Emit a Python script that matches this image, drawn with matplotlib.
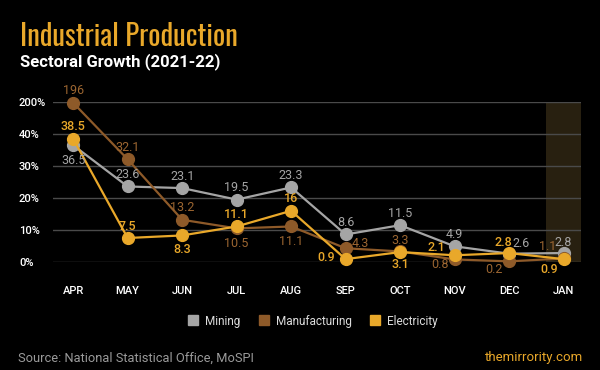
import numpy as np
import matplotlib
matplotlib.use("Agg")
import matplotlib.pyplot as plt
from matplotlib.lines import Line2D
from matplotlib import font_manager as fm

months = ["APR", "MAY", "JUN", "JUL", "AUG", "SEP", "OCT", "NOV", "DEC", "JAN"]
mining = [36.5, 23.6, 23.1, 19.5, 23.3, 8.6, 11.5, 4.9, 2.6, 2.8]
manufacturing = [196, 32.1, 13.2, 10.5, 11.1, 4.3, 3.3, 0.8, 0.2, 1.1]
electricity = [38.5, 7.5, 8.3, 11.1, 16, 0.9, 3.1, 2.1, 2.8, 0.9]
y_ticks = [0, 10, 20, 30, 40, 200]
y_tick_labels = ["0%", "10%", "20%", "30%", "40%", "200%"]

C_MIN = "#a5a5a5"
C_MAN = "#8e5a29"
C_MAN_TXT = "#9c6631"
C_ELE = "#e9a82a"

# label offsets in pixels (dx, dy)
off_min = [(0, -15), (0, 12), (0, 12), (0, 12), (0, 12), (0, 12), (0, 12), (0, 12), (12, 10), (0, 11)]
off_man = [(0, 12), (0, 12), (0, 12), (0, -15), (0, -15), (15, 5), (0, 11), (-15, -5), (-15, -8), (-16, 12)]
off_ele = [(0, 12), (0, 12), (0, -14), (0, 12), (0, 12), (-19, 2), (0, -12), (-18, 8), (-6, 11), (-14, -10)]

def fwd(v):
    v = np.asarray(v, dtype=float)
    return np.where(v <= 40, v, 40 + (v - 40) * 10.0 / 160.0)

def inv(u):
    u = np.asarray(u, dtype=float)
    return np.where(u <= 40, u, 40 + (u - 40) * 160.0 / 10.0)

plt.rcParams['font.family'] = ['Roboto', 'DejaVu Sans']

installed = {f.name for f in fm.fontManager.ttflist}
title_fam = "DejaVu Sans"
for cand in ["Oswald", "Fjalla One", "Pathway Gothic One", "Roboto Condensed",
             "Barlow Condensed", "Archivo Narrow", "Liberation Sans Narrow"]:
    if cand in installed:
        title_fam = cand
        break

fig = plt.figure(figsize=(6, 3.7), dpi=100, facecolor="black")
ax = fig.add_axes([53/600, 1-262/370, (581-53)/600, (262-102)/370])
ax.set_facecolor("black")
ax.set_yscale("function", functions=(fwd, inv))
ax.set_ylim(0, 200)
ax.set_xlim(-0.37, 9.32)
x = np.arange(len(months))

ax.axvspan(8.68, 9.32, color="#282010", zorder=0, lw=0)

ax.set_yticks(y_ticks)
ax.set_yticklabels(y_tick_labels)
ax.yaxis.grid(True, color="#4a4a4a", lw=1)
ax.set_axisbelow(True)
for s in ax.spines.values():
    s.set_visible(False)
ax.tick_params(axis="y", length=0, pad=24.5, labelsize=8, labelcolor="white")
for t in ax.get_yticklabels():
    t.set_horizontalalignment("left")
    t.set_fontweight("medium")
ax.set_xticks(x)
ax.set_xticklabels(months)
ax.tick_params(axis="x", length=0, pad=17, labelsize=8, labelcolor="white")
for t in ax.get_xticklabels():
    t.set_fontweight("medium")

series = [
    (mining, C_MIN, C_MIN, off_min, "normal", "Mining"),
    (manufacturing, C_MAN, C_MAN_TXT, off_man, "normal", "Manufacturing"),
    (electricity, C_ELE, C_ELE, off_ele, "medium", "Electricity"),
]
for vals, col, tcol, offs, fw, name in series:
    ax.plot(x, vals, color=col, lw=1.6, marker="o", markersize=8.5, clip_on=False, zorder=3)
    for xi, v, (dx, dy) in zip(x, vals, offs):
        ax.annotate(f"{v:g}", (xi, v), xytext=(dx, dy), textcoords="offset pixels",
                    ha="center", va="center", color=tcol, fontsize=9, fontweight=fw,
                    zorder=5, annotation_clip=False)

handles = [Line2D([], [], ls="none", marker="s", markersize=6.5, color=c) for c in (C_MIN, C_MAN, C_ELE)]
fig.legend(handles, ["Mining", "Manufacturing", "Electricity"], loc="center",
           bbox_to_anchor=(313/600, 1-321/370), ncol=3, frameon=False,
           handlelength=0.8, handletextpad=0.6, columnspacing=1.6,
           labelcolor="#dddddd", prop={"size": 8.5})

title = fig.text(20/600, 1-46/370, "Industrial Production", color=C_ELE, fontsize=26,
                 fontweight="medium", family=[title_fam, "DejaVu Sans"], va="baseline", ha="left")
# fit title width to the reference width (218 px)
fig.canvas.draw()
w = title.get_window_extent().width
title.set_fontsize(26 * 218.0 / w)

fig.text(20/600, 1-62/370, "Sectoral Growth (2021-22)", color="white", fontsize=12,
         fontweight="bold", va="center", ha="left")
fig.text(18/600, 1-358/370, "Source: National Statistical Office, MoSPI", color="#9a9a9a",
         fontsize=9.3, va="center", ha="left")
fig.text(583/600, 1-358/370, "themirrority.com", color=C_ELE, fontsize=9.5,
         va="center", ha="right")

fig.savefig("out.png", dpi=100, facecolor="black")
